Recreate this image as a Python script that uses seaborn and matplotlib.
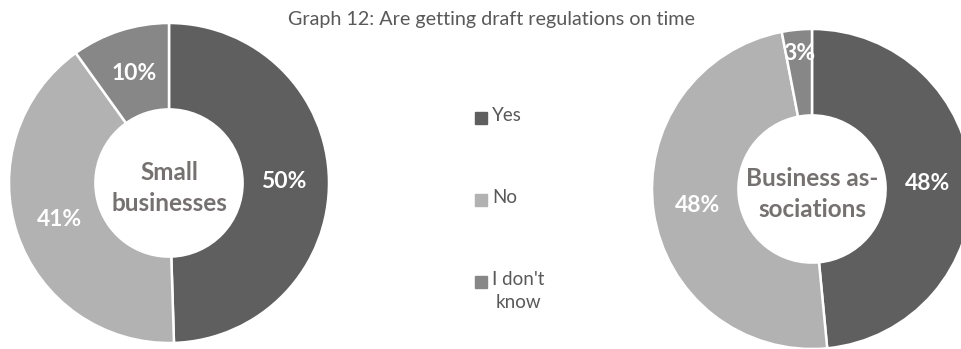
import numpy as np
import matplotlib
matplotlib.use("Agg")
import matplotlib.pyplot as plt
import seaborn as sns
from matplotlib.patches import Rectangle

# data
categories = ["Yes", "No", "I don't know"]
legend_labels = ["Yes", "No", "I don't\nknow"]
small_businesses = [50, 41, 10]
business_associations = [48, 48, 3]
group_names = ["Small\nbusinesses", "Business as-\nsociations"]
title = "Graph 12: Are getting draft regulations on time"

sns.set_theme(style="white")
plt.rcParams['font.family'] = ['Lato', 'DejaVu Sans']

colors = ["#5f5f5f", "#b2b2b2", "#878787"]
text_grey = "#595959"
center_grey = "#767171"

W, H = 961, 349
fig = plt.figure(figsize=(W / 100, H / 100), dpi=100)
fig.patch.set_facecolor("white")

PAD = 1.05


def add_donut(cx, cy, r, values, name):
    # cx, cy, r in pixels (y measured from top)
    half = r * PAD
    ax = fig.add_axes([(cx - half) / W, 1 - (cy + half) / H, 2 * half / W, 2 * half / H])
    wedges, texts, autotexts = ax.pie(
        values, colors=colors, startangle=90, counterclock=False,
        autopct=lambda p: f"{p:.0f}%", pctdistance=0.72,
        wedgeprops=dict(width=0.54, edgecolor="white", linewidth=1.8),
        textprops=dict(color="white", fontsize=16.5, fontweight="bold"))
    ax.set_xlim(-PAD, PAD)
    ax.set_ylim(-PAD, PAD)
    ax.set_aspect("equal")
    ax.axis("off")
    ax.text(0, -0.03, name, ha="center", va="center", fontsize=17.5,
            fontweight="bold", color=center_grey, linespacing=1.45)
    return ax, wedges, autotexts


ax1, wedges1, autos1 = add_donut(169, 183, 160, small_businesses, group_names[0])
ax2, wedges2, autos2 = add_donut(812, 189, 160, business_associations, group_names[1])

# small slice label sits further out in the reference
w = wedges2[2]
mid = np.deg2rad((w.theta1 + w.theta2) / 2)
autos2[2].set_position((0.85 * np.cos(mid), 0.85 * np.sin(mid)))

fig.text(491 / W, 1 - 20 / H, title, ha="center", va="center",
         fontsize=14.2, color=text_grey)

# legend
for i, (lab, col) in enumerate(zip(legend_labels, colors)):
    y = 118 + i * 82
    fig.patches.append(Rectangle((475 / W, 1 - (y + 6) / H), 12 / W, 12 / H,
                                 transform=fig.transFigure, color=col))
    fig.text(492 / W, 1 - (y - 11) / H, lab, ha="left", va="top",
             multialignment="center", fontsize=13.5, color=text_grey,
             linespacing=1.45)

fig.savefig("out.png", dpi=100)
